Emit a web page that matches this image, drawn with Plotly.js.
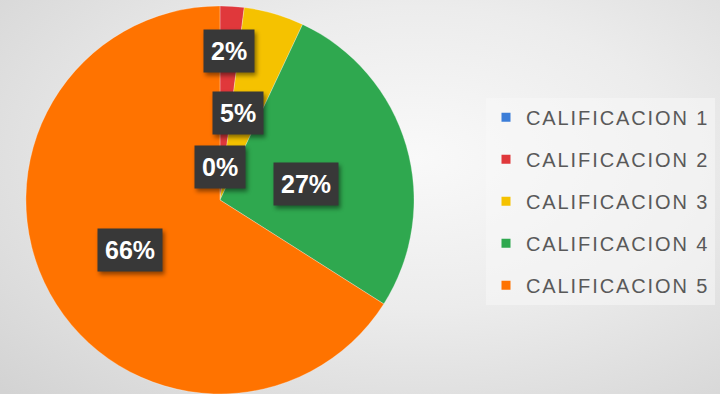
<!DOCTYPE html>
<html><head><meta charset="utf-8">
<script src="https://cdn.plot.ly/plotly-3.0.1.min.js"></script>
<style>
html,body{margin:0;padding:0;}
body{width:720px;height:394px;overflow:hidden;
 background:radial-gradient(ellipse 80% 85% at 58% 40%, #f9f9f9 0%, #ececec 45%, #d3d3d3 100%);}
#chart{width:720px;height:394px;}
.annotation rect.bg{filter:drop-shadow(2px 3px 2px rgba(0,0,0,0.45));}
.legendtext{letter-spacing:1.9px;}
</style></head><body><div id="chart"></div>
<script>
const categories = ['CALIFICACION 1','CALIFICACION 2','CALIFICACION 3','CALIFICACION 4','CALIFICACION 5'];
const values = [0, 2, 5, 27, 66];
const colors = ['#3B7DD8','#E0383B','#F5C200','#2FA84F','#FF7300'];
// data-label placement (styling): fraction of radius and angle shift in degrees
const labelRadius = [0.17, 0.77, 0.46, 0.45, 0.53];
const labelAngleShift = [0, 0, -4.5, 6, 0];

const W = 720, H = 394;
const domX = [0.035, 0.576], domY = [0, 0.985];
const cxPx = (domX[0]+domX[1])/2*W;
const cyPx = H - (domY[0]+domY[1])/2*H;
const R = Math.min((domX[1]-domX[0])*W, (domY[1]-domY[0])*H)/2;
const total = values.reduce((a,b)=>a+b,0);

const annotations = [];
let cum = 0;
values.forEach((v,i)=>{
  const mid = (cum + v/2)/total*2*Math.PI + labelAngleShift[i]*Math.PI/180;
  cum += v;
  const px = cxPx + labelRadius[i]*R*Math.sin(mid);
  const py = cyPx - labelRadius[i]*R*Math.cos(mid);
  annotations.push({
    x: px/W, y: 1 - py/H, xref:'paper', yref:'paper',
    text: Math.round(v/total*100)+'%', showarrow:false,
    font:{family:'Liberation Sans, Arial, sans-serif', size:25, color:'#ffffff', weight:'bold'},
    bgcolor:'#383838', borderpad:7, xanchor:'center', yanchor:'middle'
  });
});

const traces = [{
  type:'pie', labels:categories, values:values, sort:false, direction:'clockwise', rotation:0,
  marker:{colors:colors, line:{color:'rgba(255,255,255,0.35)', width:0.8}},
  textinfo:'none', showlegend:false, domain:{x:domX, y:domY}
}];
categories.forEach((c,i)=>{
  traces.push({type:'scatter', x:[null], y:[null], mode:'markers', name:c,
    legendgroup:'g'+i, marker:{symbol:'square', size:9, color:colors[i]}, hoverinfo:'skip'});
});

const layout = {
  width:W, height:H, margin:{l:0,r:0,t:0,b:0},
  paper_bgcolor:'rgba(0,0,0,0)', plot_bgcolor:'rgba(0,0,0,0)',
  xaxis:{visible:false}, yaxis:{visible:false},
  showlegend:true,
  legend:{x:0.675, y:0.752, xanchor:'left', yanchor:'top', traceorder:'grouped', tracegroupgap:13,
    bgcolor:'rgba(248,248,248,0.55)', font:{family:'Liberation Sans, Arial, sans-serif', size:20, color:'#595959'}},
  annotations:annotations
};
Plotly.newPlot('chart', traces, layout, {displayModeBar:false, staticPlot:true});
</script></body></html>
